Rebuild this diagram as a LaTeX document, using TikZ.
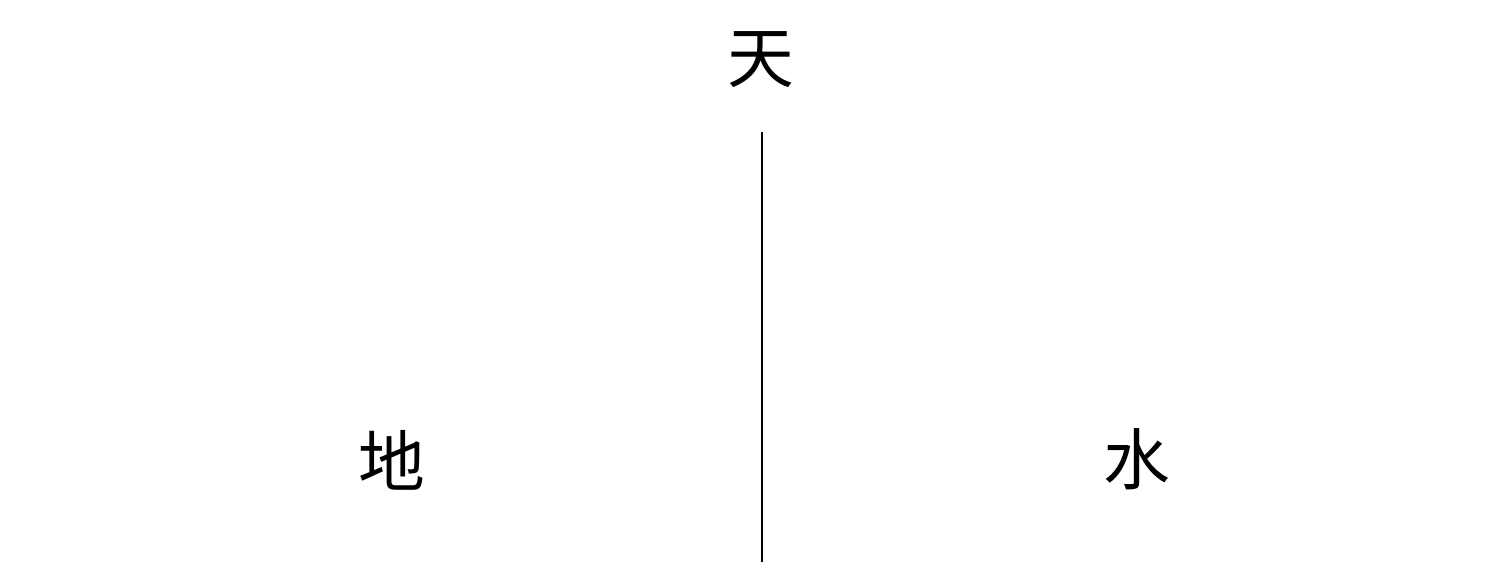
\documentclass[tikz,border=0pt]{standalone}
\usepackage{fontspec}
\newfontfamily\cjk{Noto Sans CJK SC}
\begin{document}
\begin{tikzpicture}[x=0.02cm,y=-0.02cm,
  lbl/.style={font=\cjk\fontsize{38}{40}\selectfont, inner sep=0pt, anchor=center},
  axis/.style={line width=1.6pt, black}]
\useasboundingbox (0,0) rectangle (1492,562);
\node[lbl] (tian) at (761,60) {天};
\node[lbl] (di) at (392,460) {地};
\node[lbl] (shui) at (1137,459) {水};
\coordinate (top) at (762,132);
\coordinate (bot) at (762,562);
\draw[axis] (top) -- (bot);
\end{tikzpicture}
\end{document}
